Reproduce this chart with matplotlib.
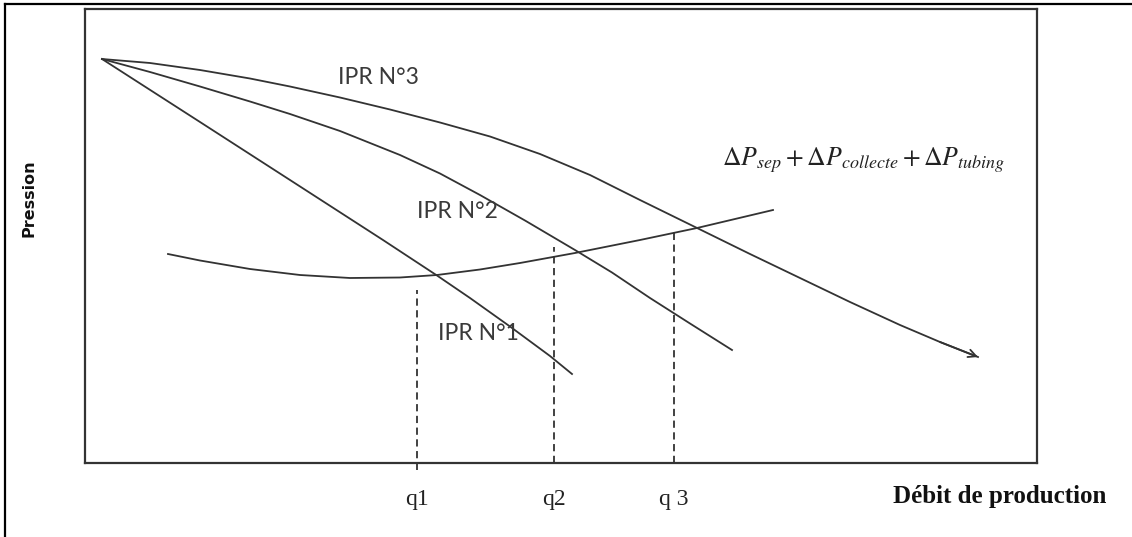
import matplotlib.pyplot as plt
from matplotlib.lines import Line2D

# schematic units (debit 0-952, pression 0-454)
ipr3_q = [17, 65, 115, 165, 205, 255, 305, 355, 405, 455, 505, 555, 608, 665, 715, 765, 815, 855, 893]
ipr3_p = [404, 400, 393, 384.5, 376.5, 365.5, 353.5, 340.5, 326.5, 309, 288, 263, 237, 209, 185, 161, 138, 121, 106]
ipr2_q = [17, 65, 115, 165, 205, 255, 315, 355, 395, 440, 490, 527, 565, 605, 647]
ipr2_p = [404, 391, 376.5, 361.5, 349, 332, 308, 289.5, 268, 242.5, 213, 190.5, 165, 139.5, 113]
ipr1_q = [17, 115, 205, 298, 352, 385, 425, 465, 487]
ipr1_p = [404, 341, 283, 223, 187.5, 165, 136.5, 107, 89]
dp_q = [83, 115, 165, 215, 265, 315, 352, 395, 435, 490, 555, 612, 688]
dp_p = [209, 202.5, 194, 188, 185, 185.5, 188, 193.5, 200, 210, 223, 235, 253]
q_pos = [332, 469, 589]
q_top = [173, 216, 233]
q_bottom = [-7, 0, 0]
q_labels = ['q1', 'q2', 'q 3']

fig = plt.figure(figsize=(11.32, 5.37), dpi=100)
ax = fig.add_axes([85/1132, 1-463/537, (1037-85)/1132, (463-9)/537])
ax.set_xlim(0, 952)
ax.set_ylim(0, 454)

col = '#333333'
ax.plot(ipr1_q, ipr1_p, color=col, lw=1.3)
ax.plot(ipr2_q, ipr2_p, color=col, lw=1.3)
ax.plot(ipr3_q, ipr3_p, color=col, lw=1.3)
ax.annotate('', xy=(ipr3_q[-1], ipr3_p[-1]), xytext=(ipr3_q[-2], ipr3_p[-2]),
            arrowprops=dict(arrowstyle='->', color=col, lw=1.3, mutation_scale=14,
                            shrinkA=0, shrinkB=0))
ax.plot(dp_q, dp_p, color=col, lw=1.3)
for x, lo, top in zip(q_pos, q_bottom, q_top):
    ax.plot([x, x], [lo, top], color=col, lw=1.3, ls=(0, (4, 2.5)), clip_on=False)

lab = dict(fontsize=16.5, family='Lato', color='#3a3a3a', ha='center', va='center')
ax.text(293, 386, 'IPR N°3', **lab)
ax.text(372, 251, 'IPR N°2', **lab)
ax.text(393, 130, 'IPR N°1', **lab)

plt.rcParams['mathtext.fontset'] = 'stix'
ax.text(779, 303, r'$\Delta P_{sep} + \Delta P_{collecte} + \Delta P_{tubing}$',
        fontsize=18.5, ha='center', va='center', color='#222222')

ax.set_xticks(q_pos)
ax.set_xticklabels(q_labels, family='Liberation Serif', fontsize=17, color='#222222')
ax.tick_params(axis='x', length=0, pad=19)
ax.set_yticks([])
for s in ax.spines.values():
    s.set_linewidth(1.6)
    s.set_color('#333333')

fig.text(1000/1132, 1-497/537, 'Débit de production', family='Liberation Serif',
         fontweight='bold', fontsize=18, ha='center', va='center', color='#111111')
fig.text(29/1132, 1-198/537, 'Pression', family='DejaVu Sans', fontweight='bold',
         fontsize=11.5, rotation=90, ha='center', va='center', color='#111111')

# outer frame (left and top edges)
fig.add_artist(Line2D([4.5/1132, 4.5/1132], [0, 1-3.5/537], transform=fig.transFigure,
                      color='black', lw=1.6))
fig.add_artist(Line2D([4.5/1132, 1], [1-3.5/537, 1-3.5/537], transform=fig.transFigure,
                      color='black', lw=1.6))

fig.savefig('out.png', dpi=100)
